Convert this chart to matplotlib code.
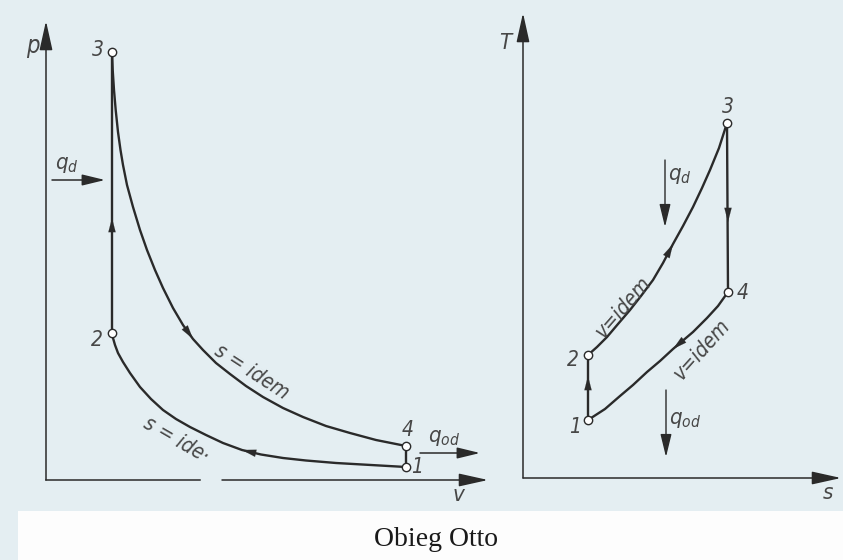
# Otto cycle: p-v and T-s diagrams (values in arbitrary units)

import numpy as np
import matplotlib.pyplot as plt
from matplotlib.patches import Rectangle

plt.rcParams['font.family'] = ['DejaVu Sans']
plt.rcParams['font.stretch'] = 'condensed'
plt.rcParams['mathtext.fontset'] = 'dejavusans'

# 1. p-v diagram: state points 1..4
v_pts = [360, 66, 66, 360]
p_pts = [13, 147, 428, 34]

# expansion 3 -> 4 (s = idem)
v_exp = [66, 66.7, 68, 69.7, 72, 74.5, 77, 81, 87, 94, 101, 109, 117, 127, 137,
         147, 157, 170, 184, 200, 217, 237, 257, 280, 304, 330, 360]
p_exp = [428, 410, 390, 370, 348, 330, 315, 295, 273, 250, 230, 210, 192, 172, 155,
         141, 130, 117, 106, 94, 83, 72, 63, 54, 47, 40, 34]

# compression 1 -> 2 (s = idem)
v_comp = [360, 325, 290, 260, 237, 215, 196, 177, 160, 144, 130, 117, 105, 94,
          84, 77, 72, 69, 67, 66]
p_comp = [13, 15, 17, 19.5, 22, 25.5, 30, 37, 45, 53, 61, 70, 81, 93,
          107, 118, 127, 135, 142, 147]

# 2. T-s diagram: state points 1..4
s_pts = [65, 65, 204, 205]
T_pts = [58, 123, 355, 186]

# heating 2 -> 3 (v = idem)
s_heat = [65, 74, 84, 95, 107, 118, 130, 140, 150, 160, 170, 179, 187, 196, 204]
T_heat = [123, 131, 141, 154, 168, 182, 198, 215, 234, 252, 271, 290, 308, 330, 355]

# cooling 4 -> 1 (v = idem)
s_cool = [205, 195, 184, 170, 150, 137, 124, 110, 97, 82, 65]
T_cool = [186, 172, 160, 146, 129, 117, 106, 93, 82, 69, 58]

# colours
bg = '#e4eef2'
ink = '#2a2a2a'
txt = '#474747'


def arrow(ax, x0, y0, x1, y1, hl=0.45, hw=0.14, lw=1.4):
    ax.annotate('', xy=(x1, y1), xytext=(x0, y0),
                arrowprops=dict(arrowstyle='-|>,head_length=%g,head_width=%g' % (hl, hw),
                                color=ink, lw=lw, shrinkA=0, shrinkB=0,
                                mutation_scale=20))


def head_on(ax, xs, ys, i):
    # arrowhead on segment i-1 -> i of a curve
    arrow(ax, xs[i - 1], ys[i - 1], xs[i], ys[i], hl=0.5, hw=0.13, lw=0.1)


def tlabel(ax, x, y, s, size=15, rot=0):
    ax.text(x, y, s, fontsize=size, style='italic', color=txt,
            ha='center', va='center', rotation=rot, rotation_mode='anchor')


fig = plt.figure(figsize=(8.43, 5.6), dpi=100)
fig.patch.set_facecolor(bg)
fig.add_artist(Rectangle((18 / 843, 0), 1, 49 / 560, transform=fig.transFigure,
                         facecolor='#fdfdfd', edgecolor='none'))

# 3. left panel (p-v)
axL = fig.add_axes([46 / 843, 80 / 560, 442 / 843, 459 / 560])
axL.set_xlim(0, 442)
axL.set_ylim(0, 459)
axL.axis('off')

arrow(axL, 0, 0, 0, 459, hl=0.9, hw=0.2, lw=1.1)
axL.plot([0, 154], [0, 0], color=ink, lw=1.1, clip_on=False)
arrow(axL, 176, 0, 442, 0, hl=0.9, hw=0.2, lw=1.1)

axL.plot(v_exp, p_exp, color=ink, lw=1.7, clip_on=False)
axL.plot(v_comp, p_comp, color=ink, lw=1.7, clip_on=False)
axL.plot([v_pts[1], v_pts[2]], [p_pts[1], p_pts[2]], color=ink, lw=1.7)
axL.plot([v_pts[3], v_pts[0]], [p_pts[3], p_pts[0]], color=ink, lw=1.7)
head_on(axL, v_exp, p_exp, 15)
head_on(axL, v_comp, p_comp, 6)
arrow(axL, v_pts[1], 250, v_pts[1], 262, hl=0.5, hw=0.13, lw=0.1)
axL.plot(v_pts, p_pts, 'o', ms=6, mfc='white', mec=ink, mew=1.0, clip_on=False)

arrow(axL, 6, 300, 59, 300, hl=0.7, hw=0.17, lw=1.1)
arrow(axL, 374, 27, 434, 27, hl=0.7, hw=0.17, lw=1.1)

tlabel(axL, -13, 434, 'p', size=17)
tlabel(axL, 52, 430, '3')
tlabel(axL, 51, 140, '2')
tlabel(axL, 362, 50, '4')
tlabel(axL, 371, 13, '1')
tlabel(axL, 21, 315, r'$q_d$', size=16)
tlabel(axL, 398, 42, r'$q_{od}$', size=16)
tlabel(axL, 412, -15, 'v', size=16)
tlabel(axL, 206, 108, 's = idem', size=15, rot=-33)
tlabel(axL, 130, 40, 's = ide·', size=15, rot=-30)

# 4. right panel (T-s)
axR = fig.add_axes([523 / 843, 82 / 560, 318 / 843, 465 / 560])
axR.set_xlim(0, 318)
axR.set_ylim(0, 465)
axR.axis('off')

arrow(axR, 0, 0, 0, 465, hl=0.9, hw=0.2, lw=1.1)
arrow(axR, 0, 0, 318, 0, hl=0.9, hw=0.2, lw=1.1)

axR.plot(s_heat, T_heat, color=ink, lw=1.7)
axR.plot(s_cool, T_cool, color=ink, lw=1.7)
axR.plot([s_pts[0], s_pts[1]], [T_pts[0], T_pts[1]], color=ink, lw=1.7)
axR.plot([s_pts[2], s_pts[3]], [T_pts[2], T_pts[3]], color=ink, lw=1.7)
head_on(axR, s_heat, T_heat, 8)
head_on(axR, s_cool, T_cool, 4)
arrow(axR, s_pts[0], 90, s_pts[0], 102, hl=0.5, hw=0.13, lw=0.1)
arrow(axR, s_pts[3], 268, s_pts[3], 256, hl=0.5, hw=0.13, lw=0.1)
axR.plot(s_pts, T_pts, 'o', ms=6, mfc='white', mec=ink, mew=1.0, clip_on=False)

arrow(axR, 142, 318, 142, 251, hl=0.7, hw=0.17, lw=1.0)
arrow(axR, 143, 88, 143, 21, hl=0.7, hw=0.17, lw=1.0)

tlabel(axR, -18, 435, 'T', size=16)
tlabel(axR, 205, 371, '3')
tlabel(axR, 220, 185, '4')
tlabel(axR, 50, 118, '2')
tlabel(axR, 52, 51, '1')
tlabel(axR, 157, 302, r'$q_d$', size=16)
tlabel(axR, 162, 58, r'$q_{od}$', size=16)
tlabel(axR, 305, -15, 's', size=16)
tlabel(axR, 100, 171, 'v=idem', size=15, rot=49)
tlabel(axR, 179, 128, 'v=idem', size=15, rot=48)

fig.text(436 / 843, 1 - 540 / 560, 'Obieg Otto', ha='center', va='center',
         family='Liberation Serif', fontsize=20, color='#1a1a1a')

fig.savefig('out.png', dpi=100, facecolor=fig.get_facecolor())
